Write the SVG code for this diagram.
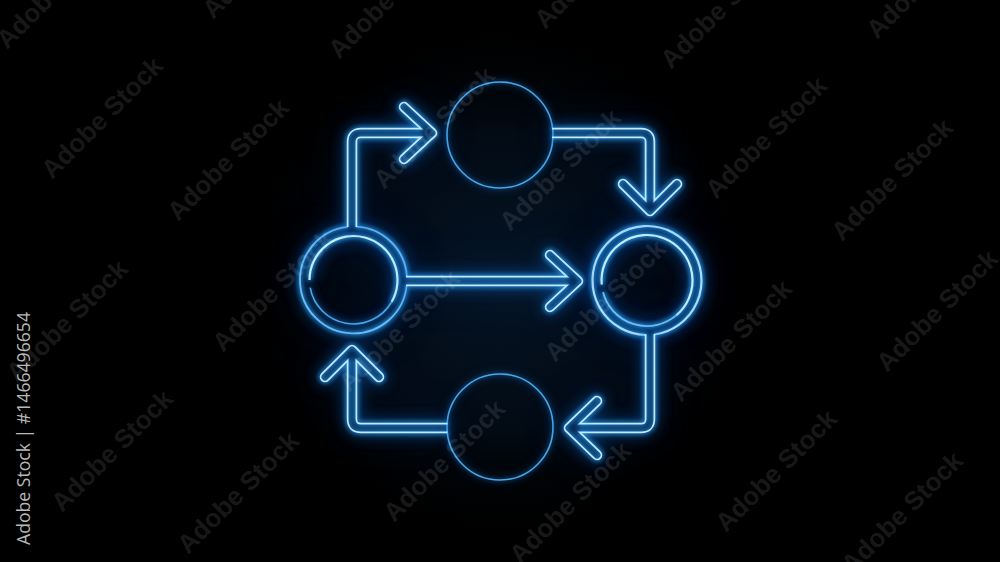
<svg xmlns="http://www.w3.org/2000/svg" width="1000" height="562" viewBox="0 0 1000 562">
<defs>
<style>
.wm{font-family:"Liberation Sans",Arial,sans-serif;font-weight:bold;font-size:26px;fill:#ffffff;fill-opacity:0.11}
.id{font-family:"Open Sans","Liberation Sans",sans-serif;font-size:19px;fill:#b8b8b8}
.bright{fill:none;stroke:#bfeeff;stroke-width:2.2;filter:url(#neon)}
.mid{fill:none;stroke:#6cc0f6;stroke-width:1.8;filter:url(#neon)}
.dim{fill:none;stroke:#4aa6e6;stroke-width:1.6;filter:url(#soft)}
.tw{fill:none;stroke:#fff;stroke-width:10.5;stroke-linejoin:round}
.tb{fill:none;stroke:#000;stroke-width:7;stroke-linejoin:round}
.cap{stroke-linecap:round}
</style>
<filter id="neon" x="-50%" y="-50%" width="200%" height="200%" color-interpolation-filters="sRGB">
<feGaussianBlur in="SourceAlpha" stdDeviation="2.5" result="a1"/>
<feGaussianBlur in="SourceAlpha" stdDeviation="8" result="a2"/>
<feGaussianBlur in="SourceAlpha" stdDeviation="20" result="a3"/>
<feFlood flood-color="#30aaff"/>
<feComposite in2="a1" operator="in" result="g1"/>
<feFlood flood-color="#1174e6"/>
<feComposite in2="a2" operator="in" result="g2"/>
<feFlood flood-color="#0a4fa8" flood-opacity="0.8"/>
<feComposite in2="a3" operator="in" result="g3"/>
<feMerge><feMergeNode in="g3"/><feMergeNode in="g2"/><feMergeNode in="g2"/><feMergeNode in="g1"/><feMergeNode in="g1"/><feMergeNode in="SourceGraphic"/></feMerge>
</filter>
<filter id="soft" x="-50%" y="-50%" width="200%" height="200%" color-interpolation-filters="sRGB">
<feGaussianBlur in="SourceAlpha" stdDeviation="2" result="a0"/>
<feGaussianBlur in="SourceAlpha" stdDeviation="5" result="a1"/>
<feFlood flood-color="#2a90f0" flood-opacity="0.6"/>
<feComposite in2="a0" operator="in" result="g0"/>
<feFlood flood-color="#1670d8" flood-opacity="0.8"/>
<feComposite in2="a1" operator="in" result="g1"/>
<feMerge><feMergeNode in="g1"/><feMergeNode in="g0"/><feMergeNode in="SourceGraphic"/></feMerge>
</filter>
<radialGradient id="halo" cx="500" cy="281" r="270" gradientUnits="userSpaceOnUse">
<stop offset="0" stop-color="#0a2a4c" stop-opacity="0.5"/>
<stop offset="0.55" stop-color="#061a32" stop-opacity="0.4"/>
<stop offset="1" stop-color="#000000" stop-opacity="0"/>
</radialGradient>
<mask id="tubes" maskUnits="userSpaceOnUse" x="0" y="0" width="1000" height="562">
<rect width="1000" height="562" fill="#000"/>
<g class="tw">
<path d="M352,227 V142 Q352,133 361,133 H432"/>
<path class="cap" d="M404,107 L432,133 L404,159"/>
<path d="M552,133 H641 Q650,133 650,142 V211"/>
<path class="cap" d="M623,184 L650,211 L677,184"/>
<path d="M406,281 H578"/>
<path class="cap" d="M550,255 L578,281 L550,307"/>
<path d="M650,334 V419 Q650,428 641,428 H569"/>
<path class="cap" d="M597,401 L569,428 L597,455"/>
<path d="M447.5,428 H361 Q352,428 352,419 V350"/>
<path class="cap" d="M325,377 L352,350 L379,377"/>
</g>
<g class="tb">
<path d="M352,228 V142 Q352,133 361,133 H432"/>
<path class="cap" d="M404,107 L432,133 L404,159"/>
<path d="M551,133 H641 Q650,133 650,142 V211"/>
<path class="cap" d="M623,184 L650,211 L677,184"/>
<path d="M405,281 H578"/>
<path class="cap" d="M550,255 L578,281 L550,307"/>
<path d="M650,333 V419 Q650,428 641,428 H569"/>
<path class="cap" d="M597,401 L569,428 L597,455"/>
<path d="M448.5,428 H361 Q352,428 352,419 V350"/>
<path class="cap" d="M325,377 L352,350 L379,377"/>
</g>
</mask>
</defs>
<rect width="1000" height="562" fill="#000"/>
<ellipse cx="500" cy="281" rx="270" ry="270" fill="url(#halo)"/>

<g id="node-top">
<circle class="dim" cx="500" cy="135" r="53"/>
</g>
<g id="node-bottom">
<circle class="dim" cx="500" cy="427" r="53"/>
</g>
<g id="node-left">
<path class="mid" d="M356.5,226.6 A53.5,53.5 0 0 1 406.9,276.5 M406.7,285.5 A53.5,53.5 0 1 1 347.5,226.8"/>
<path class="bright" d="M309.5,280 A44,44 0 1 1 391.6,302"/>
<path class="dim" d="M391.6,302 A44,44 0 0 1 310.2,287.6"/>
</g>
<g id="node-right">
<path class="bright" d="M654.5,334.5 A54.5,54.5 0 1 0 645.5,335"/>
<path class="bright" d="M601.7,284.5 A45.5,45.5 0 1 1 676.2,315.4"/>
<path class="mid" d="M676.2,315.4 A45.5,45.5 0 0 1 603.05,292.3"/>
</g>
<g id="connectors" filter="url(#neon)">
<rect width="1000" height="562" fill="#bfeaff" mask="url(#tubes)"/>
</g>

<g id="watermarks">
<text class="wm" x="52" y="180" transform="rotate(-45 52 180)">Adobe Stock</text>
<text class="wm" x="178" y="222" transform="rotate(-45 178 222)">Adobe Stock</text>
<text class="wm" x="7" y="50" transform="rotate(-45 7 50)">Adobe Stock</text>
<text class="wm" x="213" y="20" transform="rotate(-45 213 20)">Adobe Stock</text>
<text class="wm" x="384" y="190" transform="rotate(-45 384 190)">Adobe Stock</text>
<text class="wm" x="510" y="232" transform="rotate(-45 510 232)">Adobe Stock</text>
<text class="wm" x="339" y="60" transform="rotate(-45 339 60)">Adobe Stock</text>
<text class="wm" x="545" y="30" transform="rotate(-45 545 30)">Adobe Stock</text>
<text class="wm" x="716" y="200" transform="rotate(-45 716 200)">Adobe Stock</text>
<text class="wm" x="842" y="242" transform="rotate(-45 842 242)">Adobe Stock</text>
<text class="wm" x="671" y="70" transform="rotate(-45 671 70)">Adobe Stock</text>
<text class="wm" x="877" y="40" transform="rotate(-45 877 40)">Adobe Stock</text>
<text class="wm" x="62" y="513" transform="rotate(-45 62 513)">Adobe Stock</text>
<text class="wm" x="188" y="555" transform="rotate(-45 188 555)">Adobe Stock</text>
<text class="wm" x="17" y="383" transform="rotate(-45 17 383)">Adobe Stock</text>
<text class="wm" x="223" y="353" transform="rotate(-45 223 353)">Adobe Stock</text>
<text class="wm" x="394" y="523" transform="rotate(-45 394 523)">Adobe Stock</text>
<text class="wm" x="520" y="565" transform="rotate(-45 520 565)">Adobe Stock</text>
<text class="wm" x="349" y="393" transform="rotate(-45 349 393)">Adobe Stock</text>
<text class="wm" x="555" y="363" transform="rotate(-45 555 363)">Adobe Stock</text>
<text class="wm" x="726" y="533" transform="rotate(-45 726 533)">Adobe Stock</text>
<text class="wm" x="852" y="575" transform="rotate(-45 852 575)">Adobe Stock</text>
<text class="wm" x="681" y="403" transform="rotate(-45 681 403)">Adobe Stock</text>
<text class="wm" x="887" y="373" transform="rotate(-45 887 373)">Adobe Stock</text>
<text class="id" x="30" y="545" transform="rotate(-90 30 545)" textLength="233" lengthAdjust="spacingAndGlyphs">Adobe Stock | #1466496654</text>
</g>
</svg>
